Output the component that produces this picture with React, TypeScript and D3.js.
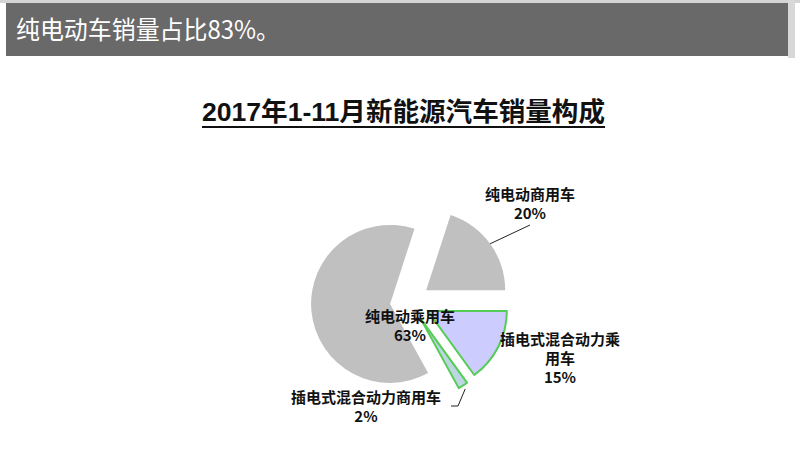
import React from "react";
import { arc, pie, PieArcDatum } from "d3";

// 2017年1-11月新能源汽车销量构成 (%)
const categories = ["纯电动商用车", "插电式混合动力乘用车", "插电式混合动力商用车", "纯电动乘用车"];
const shares = [20, 15, 2, 63];
// label text as it wraps in the picture
const labelLines = [
  ["纯电动商用车", "20%"],
  ["插电式混合动力乘", "用车", "15%"],
  ["插电式混合动力商用车", "2%"],
  ["纯电动乘用车", "63%"],
];
const headline = "纯电动车销量占比83%。";
const chartTitle = "2017年1-11月新能源汽车销量构成";

const fills = ["#c0c0c0", "#ccccff", "#bcd6e2", "#c0c0c0"];
const strokes = ["none", "#55cc55", "#55cc55", "none"];
// label anchor (centre x, first baseline y)
const labelPos = [
  [530, 200],
  [560, 345],
  [366, 403],
  [410, 322],
];

const cx = 410;
const cy = 302;
const radius = 79;
const explode = 20;
const start = (18 * Math.PI) / 180;

interface Slice {
  name: string;
  value: number;
}

export default function App() {
  const data: Slice[] = categories.map((name, i) => ({ name, value: shares[i] }));
  const arcs = pie<Slice>()
    .sort(null)
    .value((d) => d.value)
    .startAngle(start)
    .endAngle(start + 2 * Math.PI)(data);
  const arcGen = arc<PieArcDatum<Slice>>().innerRadius(0).outerRadius(radius);

  const offset = (a: PieArcDatum<Slice>, dist: number) => {
    const mid = (a.startAngle + a.endAngle) / 2;
    return [Math.sin(mid) * dist, -Math.cos(mid) * dist];
  };

  // leader lines
  const a20 = arcs[0];
  const [o20x, o20y] = offset(a20, explode);
  const [e20x, e20y] = offset(a20, radius);
  const p20 = [cx + o20x + e20x, cy + o20y + e20y];
  const a2 = arcs[2];
  const [o2x, o2y] = offset(a2, explode);
  const [e2x, e2y] = offset(a2, radius + 4);
  const p2 = [cx + o2x + e2x, cy + o2y + e2y];

  const labelFont = "'Noto Sans CJK SC', 'Liberation Sans', sans-serif";

  return (
    <svg
      width={800}
      height={461}
      style={{ position: "absolute", left: 0, top: 0, background: "#fff" }}
      fontFamily={labelFont}
    >
      <rect x={0} y={0} width={800} height={3} fill="#d4d4d4" />
      <rect x={788} y={0} width={7} height={58} fill="#d8d8d8" />
      <rect x={6} y={3} width={782} height={53} fill="#696969" />
      <text x={16} y={39} fill="#fff" fontSize={25} textLength={264} lengthAdjust="spacingAndGlyphs">
        {headline}
      </text>

      <text
        x={202}
        y={121}
        fontSize={26}
        fontWeight="bold"
        fill="#111"
        textLength={403}
        lengthAdjust="spacingAndGlyphs"
        fontFamily="'Liberation Sans', 'Noto Sans CJK SC', sans-serif"
      >
        {chartTitle}
      </text>
      <line x1={202} x2={605} y1={127} y2={127} stroke="#111" strokeWidth={2} />

      {arcs.map((a, i) => {
        const [ox, oy] = offset(a, explode);
        return (
          <path
            key={categories[i]}
            d={arcGen(a) || ""}
            transform={`translate(${cx + ox},${cy + oy})`}
            fill={fills[i]}
            stroke={strokes[i]}
            strokeWidth={2}
            strokeLinejoin="round"
          />
        );
      })}

      <polyline
        points={`${p20[0]},${p20[1]} 530,225`}
        fill="none"
        stroke="#222"
        strokeWidth={1}
      />
      <polyline
        points={`${p2[0]},${p2[1]} 458,406 451,406`}
        fill="none"
        stroke="#222"
        strokeWidth={1}
      />

      {labelLines.map((lines, i) => (
        <text
          key={categories[i]}
          x={labelPos[i][0]}
          y={labelPos[i][1]}
          textAnchor="middle"
          fontSize={15}
          fontWeight="bold"
          fill="#111"
        >
          {lines.map((t, j) => (
            <tspan key={j} x={labelPos[i][0]} dy={j === 0 ? 0 : 19}>
              {t}
            </tspan>
          ))}
        </text>
      ))}
    </svg>
  );
}
